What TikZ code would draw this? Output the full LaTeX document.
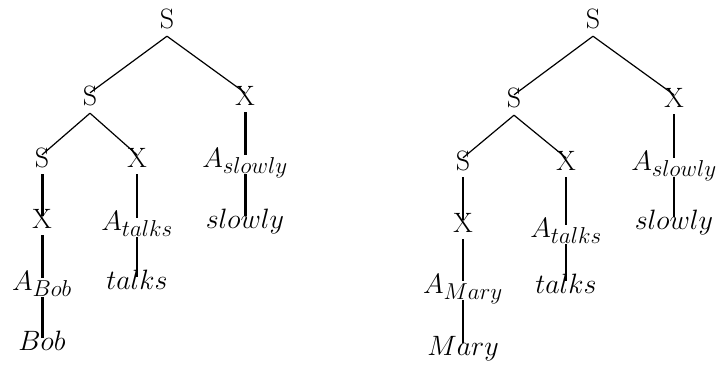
\RequirePackage{fix-cm}
\documentclass[tikz,border=0pt]{standalone}
\usepackage{amsmath}
\usepackage{fontspec}
\usepackage{tikz}
\usetikzlibrary{positioning}
\DeclareMathSizes{28}{28}{23}{16}

\begin{document}
\begin{tikzpicture}[x=1pt, y=-1pt, font=\fontsize{28}{34}\selectfont,
	lbl/.style={anchor=base, inner sep=5pt, text height=0.7em, text depth=0.18em},
	forknode/.style={lbl, text depth=0.3em},
	arm/.style={line width=1.2pt},
	stem/.style={line width=3pt},
	slimstem/.style={line width=2pt}]
	\useasboundingbox (0,0) rectangle (717,368);
	% arbol izquierdo: Bob
	\begin{scope}
		\foreach \n/\x/\y/\t in {lS0/167/28/S, lS1/90/105/S}
			{\node[forknode] (\n) at (\x,\y) {\t};}
		\foreach \n/\x/\y/\t in {lX1/245/105/X, lS2/42/167/S, lX2/137/167/X,
			lAsl/245/167/{$A_{slowly}$}, lX3/42/228/X, lAta/137/230/{$A_{talks}$},
			lsl/245/228/{$slowly$}, lAbo/42/290/{$A_{Bob}$}, lta/137/289/{$talks$},
			lbo/42/350/{$Bob$}}
			{\node[lbl] (\n) at (\x,\y) {\t};}
		\foreach \a/\b in {lS0/lS1, lS0/lX1, lS1/lS2, lS1/lX2}
			{\draw[arm] (\a.south) -- (\b.north);}
		\foreach \a/\b in {lS2/lX3, lX3/lAbo, lAbo/lbo, lX1/lAsl, lAsl/lsl}
			{\draw[stem] (\a.south) -- (\b.north);}
		\foreach \a/\b in {lX2/lAta, lAta/lta}
			{\draw[slimstem] (\a.south) -- (\b.north);}
	\end{scope}
	% arbol derecho: Mary
	\begin{scope}
		\foreach \n/\x/\y/\t in {rS0/593/28/S, rS1/514/107/S}
			{\node[forknode] (\n) at (\x,\y) {\t};}
		\foreach \n/\x/\y/\t in {rX1/674/107/X, rS2/463/170/S, rX2/566/170/X,
			rAsl/674/170/{$A_{slowly}$}, rX3/463/232/X, rAta/566/237/{$A_{talks}$},
			rsl/674/229/{$slowly$}, rAma/463/293/{$A_{Mary}$}, rta/566/293/{$talks$},
			rma/463/355/{$Mary$}}
			{\node[lbl] (\n) at (\x,\y) {\t};}
		\foreach \a/\b in {rS0/rS1, rS0/rX1, rS1/rS2, rS1/rX2}
			{\draw[arm] (\a.south) -- (\b.north);}
		\foreach \a/\b in {rS2/rX3, rX3/rAma, rAma/rma, rX2/rAta, rAta/rta,
			rX1/rAsl, rAsl/rsl}
			{\draw[slimstem] (\a.south) -- (\b.north);}
	\end{scope}
\end{tikzpicture}
\end{document}
